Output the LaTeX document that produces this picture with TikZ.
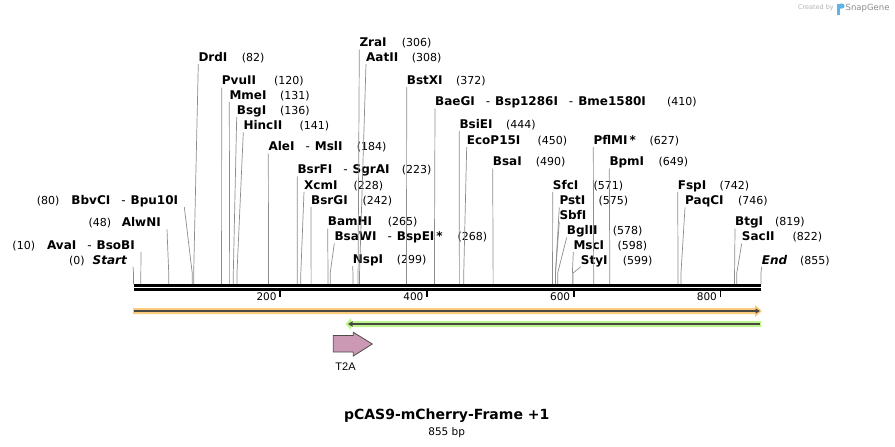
\documentclass[tikz,border=0pt]{standalone}
\usepackage{fontspec}
\setmainfont{DejaVu Sans}
\newfontfamily\arialfont{Liberation Sans}
\usetikzlibrary{arrows.meta,positioning,calc}

\definecolor{leadgray}{RGB}{140,140,140}
\definecolor{featorange}{RGB}{252,203,126}
\definecolor{featgreen}{RGB}{190,244,140}
\definecolor{featline}{RGB}{72,72,66}
\definecolor{t2apink}{RGB}{204,153,180}
\definecolor{logoblue}{RGB}{92,180,232}
\newcommand{\enzsep}{\hspace{11pt}\textmd{-}\hspace{5pt}}

\begin{document}
\begin{tikzpicture}[x=1pt, y=-1pt,
   enz/.style={anchor=base west, inner sep=0pt, text height=8.7pt, text depth=2.6pt,
               font=\fontsize{12}{14}\selectfont\bfseries},
   enzl/.style={enz, anchor=base east},
   num/.style={anchor=base west, inner sep=0pt, font=\fontsize{11}{13}\selectfont},
   leader/.style={draw=leadgray, line width=0.7pt},
   ticklbl/.style={anchor=east, inner sep=0pt, font=\fontsize{10.5}{12}\selectfont},
   >=Triangle]
\useasboundingbox (0,0) rectangle (895,447);

% cut sites on the backbone
\foreach \n/\b in {beg/0, ava/10, alw/48, bbvc/80, drd/82, pvu/120, mme/131, bsg/136,
    hinc/141, ale/184, bsrf/223, xcm/228, bsrg/242, bam/265, bsaw/268, nsp/299,
    zra/306, aat/308, bstx/372, baeg/410, bsie/444, ecop/450, bsa/490, sfc/571,
    pst/575, sbf/575, bgl/578, msc/598, sty/599, pflm/627, bpm/649, fsp/742,
    paqc/746, btg/819, sac/822, fin/855}
  \coordinate (c-\n) at ({133.5+0.7339*\b},284);

% enzyme names
\node[enzl] (bbvc) at (178.3,204) {BbvCI\enzsep Bpu10I};
\node[enzl] (alw) at (161,226.7) {AlwNI};
\node[enzl] (ava) at (135,249) {AvaI\enzsep BsoBI};
\node[enzl] (beg) at (127,264) {\itshape Start};
\node[enz] (zra) at (359.3,46.7) {ZraI};
\node[enz] (drd) at (198.3,61.3) {DrdI};
\node[enz] (aat) at (366,61.3) {AatII};
\node[enz] (pvu) at (221.7,84.7) {PvuII};
\node[enz] (bstx) at (406.7,84.3) {BstXI};
\node[enz] (mme) at (229.3,99) {MmeI};
\node[enz] (baeg) at (435,105.5) {BaeGI\enzsep Bsp1286I\enzsep Bme1580I};
\node[enz] (bsg) at (236.7,114) {BsgI};
\node[enz] (bsie) at (459.3,128.3) {BsiEI};
\node[enz] (hinc) at (243.3,129.7) {HincII};
\node[enz] (ecop) at (466.7,144) {EcoP15I};
\node[enz] (pflm) at (593.3,144) {PflMI\,*};
\node[enz] (ale) at (268.3,150.7) {AleI\enzsep MslI};
\node[enz] (bsa) at (492.7,165.7) {BsaI};
\node[enz] (bpm) at (609.3,165.7) {BpmI};
\node[enz] (bsrf) at (297.3,173.5) {BsrFI\enzsep SgrAI};
\node[enz] (xcm) at (304,189) {XcmI};
\node[enz] (sfc) at (552.7,189) {SfcI};
\node[enz] (fsp) at (677.7,189) {FspI};
\node[enz] (bsrg) at (311,204) {BsrGI};
\node[enz] (pst) at (559.3,204.7) {PstI};
\node[enz] (paqc) at (685,204.7) {PaqCI};
\node[enz] (sbf) at (559.3,219) {SbfI};
\node[enz] (bam) at (327.7,225.7) {BamHI};
\node[enz] (btg) at (735,225.7) {BtgI};
\node[enz] (bgl) at (566.7,234.7) {BglII};
\node[enz] (bsaw) at (334.3,240.7) {BsaWI\enzsep BspEI\,*};
\node[enz] (sac) at (741.7,240.7) {SacII};
\node[enz] (msc) at (573.3,249) {MscI};
\node[enz] (nsp) at (352.7,263.3) {NspI};
\node[enz] (sty) at (580.7,264) {StyI};
\node[enz] (fin) at (761.7,264) {\itshape End};

% positions in brackets
\foreach \n/\t/\x/\y in {bbvc/80/36.7/204, alw/48/88.3/226.7, ava/10/12.3/249, beg/0/69/264,
    zra/306/401.7/46.7, drd/82/241.7/61.3, aat/308/411.7/61.3, pvu/120/274/84.7,
    bstx/372/456/84.3, mme/131/280/99, baeg/410/667/105.5, bsg/136/280/114,
    bsie/444/506/128.3, hinc/141/299.3/129.7, ecop/450/537.3/144, pflm/627/649.3/144,
    ale/184/356.7/150.7, bsa/490/535.7/165.7, bpm/649/658.3/165.7, bsrf/223/401.7/173.5,
    xcm/228/353.3/189, sfc/571/593.3/189, fsp/742/719.3/189, bsrg/242/362.3/204,
    pst/575/598.3/204.7, paqc/746/738/204.7, bam/265/387.7/225.7, btg/819/775/225.7,
    bgl/578/612.7/234.7, bsaw/268/457.3/240.7, sac/822/792.3/240.7, msc/598/617.3/249,
    nsp/299/396.7/263.3, sty/599/622.7/264, fin/855/800/264}
  \node[num] (\n-n) at (\x,\y) {(\t)};

% leader lines
\foreach \n in {beg,ava,alw,bbvc}
  \draw[leader] ([xshift=6pt]\n.south east) -- ([yshift=11pt]c-\n) -- (c-\n);
\foreach \n in {drd,pvu,mme,bsg,hinc,ale,bsrf,xcm,bsrg,bam,bsaw,nsp,zra,aat,bstx,baeg,
    bsie,ecop,bsa,sfc,pst,sbf,bgl,msc,sty,pflm,bpm,fsp,paqc,btg,sac,fin}
  \draw[leader] (\n.south west) -- ([yshift=11pt]c-\n) -- (c-\n);

% backbone and ruler
\draw[line width=2.7pt] ([yshift=-1.5pt]c-beg) -- ([yshift=-1.5pt]c-fin);
\draw[line width=2.5pt] ([yshift=-5.3pt]c-beg) -- ([yshift=-5.3pt]c-fin);
\foreach \t in {200,400,600,800} {
  \draw[line width=1.6pt] ({133.5+0.7339*\t},290) -- ++(0,6.5);
  \node[ticklbl] (t\t) at ({133.5+0.7339*\t-3.5},297) {\t};
}

% features
\fill[featorange] (133,308) -- (755,308) -- (755,305) -- (762,311) -- (755,317)
  -- (755,314) -- (133,314) -- cycle;
\draw[featline, line width=1.6pt, -{Triangle[length=4.5pt,width=5pt]}] (134,311) -- (760,311);
\fill[featgreen] (761,321) -- (351,321) -- (351,318) -- (345.5,324) -- (351,330)
  -- (351,327) -- (761,327) -- cycle;
\draw[featline, line width=1.6pt, -{Triangle[length=4.5pt,width=5pt]}] (760,324) -- (348,324);
\draw[fill=t2apink, draw=black!70, line width=0.8pt] (333.3,335.5) -- (353.3,335.5)
  -- (353.3,332.3) -- (372.3,344) -- (353.3,356) -- (353.3,352) -- (333.3,352) -- cycle;
\node[font=\arialfont\fontsize{11}{13}\selectfont, inner sep=0pt] (t2a) at (345.5,366.5) {T2A};

% title
\node[font=\fontsize{14}{16}\selectfont\bfseries, inner sep=0pt] (title) at (446.7,416) {pCAS9-mCherry-Frame +1};
\node[font=\fontsize{10.5}{12}\selectfont, inner sep=0pt] (len) at (446.7,432.5) {855 bp};

% logo
\node[anchor=east, inner sep=0pt, font=\fontsize{6.5}{8}\selectfont, text=black!30] (made) at (834,8) {Created by};
\fill[logoblue] (837,3.5) rectangle (840,14.5);
\fill[logoblue] (840,3.5) -- (842,3.5) arc[start angle=90, end angle=-90, radius=2.5pt] -- (840,8.5) -- cycle;
\node[anchor=west, inner sep=0pt, font=\fontsize{8.5}{10}\selectfont, text=black!45] (sg) at (845.5,8) {SnapGene};
\end{tikzpicture}
\end{document}
